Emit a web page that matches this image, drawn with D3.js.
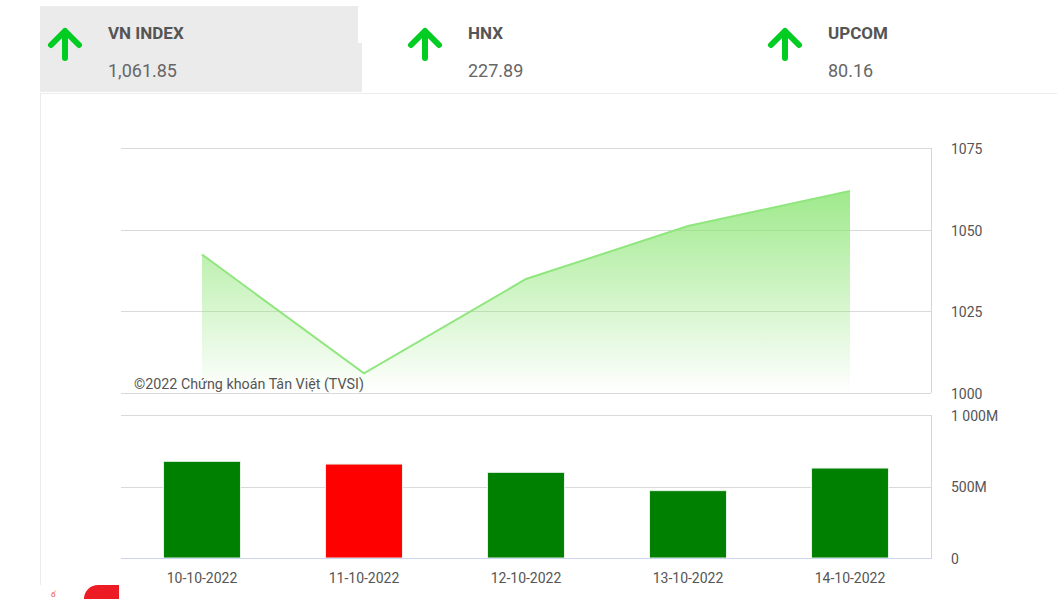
<!DOCTYPE html>
<html><head><meta charset="utf-8">
<script src="https://cdn.jsdelivr.net/npm/d3@7/dist/d3.min.js"></script>
<style>
html,body{margin:0;padding:0;background:#fff;}
svg{display:block;font-family:Roboto,"Noto Sans",sans-serif;}
</style></head>
<body>
<svg id="c" width="1057" height="599"></svg>
<script>
const indexNames = ["VN INDEX", "HNX", "UPCOM"];
const indexValues = ["1,061.85", "227.89", "80.16"];
const dates = ["10-10-2022", "11-10-2022", "12-10-2022", "13-10-2022", "14-10-2022"];
const closeValues = [1042.4, 1006.0, 1034.9, 1051.1, 1061.85];
const volumeValues = [676, 657, 599, 471, 629]; // millions
const volumeUp = [true, false, true, true, true];
const priceTicks = [1000, 1025, 1050, 1075];
const volumeTicks = [0, 500, 1000];
const volumeTickLabels = ["0", "500M", "1 000M"];
const credit = "©2022 Chứng khoán Tân Việt (TVSI)";

const svg = d3.select("#c");

// header
svg.append("path").attr("d","M40,6H358V43H362V92H40Z").attr("fill","#ebebeb");
svg.append("line").attr("x1",40).attr("x2",1057).attr("y1",93.5).attr("y2",93.5).attr("stroke","#ececec");
svg.append("line").attr("x1",40.5).attr("x2",40.5).attr("y1",93).attr("y2",585).attr("stroke","#ececec");

const hx = d3.scalePoint().domain(indexNames).range([65, 785]);
const hg = svg.selectAll("g.hdr").data(indexNames).join("g").attr("class","hdr")
  .attr("transform", d => `translate(${hx(d)},0)`);
hg.append("path").attr("d","M-14,45L0,31L14,45M0,31V58")
  .attr("fill","none").attr("stroke","#00cc22").attr("stroke-width",6)
  .attr("stroke-linecap","round").attr("stroke-linejoin","round");
hg.append("text").attr("x",43).attr("y",39).text(d=>d)
  .attr("font-size",17).attr("font-weight","bold").attr("fill","#555");
hg.append("text").attr("x",43).attr("y",77).text((d,i)=>indexValues[i])
  .attr("font-size",18).attr("fill","#666");

// scales
const x = d3.scaleBand().domain(dates).range([121, 931]).paddingInner(0.525).paddingOuter(0.2625);
const cx = d => x(d) + x.bandwidth()/2;
const yP = d3.scaleLinear().domain([1000, 1075]).range([393, 148]);
const yV = d3.scaleLinear().domain([0, 1000]).range([558, 415]);

// top chart grid
svg.append("g").selectAll("line").data(priceTicks).join("line")
  .attr("x1",121).attr("x2",931).attr("y1",d=>Math.round(yP(d))+0.5).attr("y2",d=>Math.round(yP(d))+0.5)
  .attr("stroke","#dadada");
svg.append("line").attr("x1",931.5).attr("x2",931.5).attr("y1",yP(1075)).attr("y2",yP(1000)).attr("stroke","#ccd6eb");

// gradient
const defs = svg.append("defs");
const grad = defs.append("linearGradient").attr("id","g1")
  .attr("gradientUnits","userSpaceOnUse").attr("x1",0).attr("x2",0).attr("y1",yP(1075)).attr("y2",yP(1000));
grad.append("stop").attr("offset",0).attr("stop-color","#8be573").attr("stop-opacity",1);
grad.append("stop").attr("offset",1).attr("stop-color","#8be573").attr("stop-opacity",0);

const pts = dates.map((d,i)=>({d, v: closeValues[i]}));
svg.append("path").datum(pts)
  .attr("d", d3.area().x(p=>cx(p.d)).y0(yP(1000)).y1(p=>yP(p.v)))
  .attr("fill","url(#g1)");
svg.append("path").datum(pts)
  .attr("d", d3.line().x(p=>cx(p.d)).y(p=>yP(p.v)))
  .attr("fill","none").attr("stroke","#90e67e").attr("stroke-width",2);

// y labels top
const ayP = d3.axisRight(yP).tickValues(priceTicks).tickFormat(d3.format("d")).tickSize(0).tickPadding(0);
svg.append("g").attr("transform","translate(951,1)").call(ayP)
  .call(g=>g.select(".domain").remove())
  .selectAll("text").attr("font-size",14).attr("fill","#555").attr("font-family","Roboto");

svg.append("text").attr("x",134).attr("y",389).text(credit).attr("font-size",14.3).attr("fill","#555");

// bottom chart grid
svg.append("g").selectAll("line").data(volumeTicks.filter(t=>t>0)).join("line")
  .attr("x1",121).attr("x2",931).attr("y1",d=>Math.round(yV(d))+0.5).attr("y2",d=>Math.round(yV(d))+0.5)
  .attr("stroke","#dadada");
svg.append("line").attr("x1",931.5).attr("x2",931.5).attr("y1",yV(1000)).attr("y2",yV(0)).attr("stroke","#ccd6eb");

// bars
svg.append("g").selectAll("rect").data(dates).join("rect")
  .attr("x", d=>x(d)).attr("width", x.bandwidth())
  .attr("y",(d,i)=>yV(volumeValues[i])).attr("height",(d,i)=>yV(0)-yV(volumeValues[i]))
  .attr("fill",(d,i)=>volumeUp[i] ? "#008000" : "#ff0000")
  .attr("stroke","#e6f0e6").attr("stroke-width",1);

svg.append("line").attr("x1",121).attr("x2",932).attr("y1",558.5).attr("y2",558.5).attr("stroke","#ccd6eb");

const ayV = d3.axisRight(yV).tickValues(volumeTicks).tickFormat((d,i)=>volumeTickLabels[i]).tickSize(0).tickPadding(0);
svg.append("g").attr("transform","translate(951,1)").call(ayV)
  .call(g=>g.select(".domain").remove())
  .selectAll("text").attr("font-size",14).attr("fill","#555").attr("font-family","Roboto");

// x axis labels
const ax = d3.axisBottom(x).tickSize(0).tickPadding(0);
svg.append("g").attr("transform","translate(0,573)").call(ax)
  .call(g=>g.select(".domain").remove())
  .selectAll("text").attr("font-size",14).attr("fill","#555").attr("font-family","Roboto");

// bottom-left partial button
svg.append("path").attr("d","M119,585V600H84V598A14,14 0 0 1 98,585Z").attr("fill","#ed1c24");
svg.append("text").attr("x",51).attr("y",597).text("ổ").attr("font-size",8).attr("fill","#e44");
</script>
</body></html>
